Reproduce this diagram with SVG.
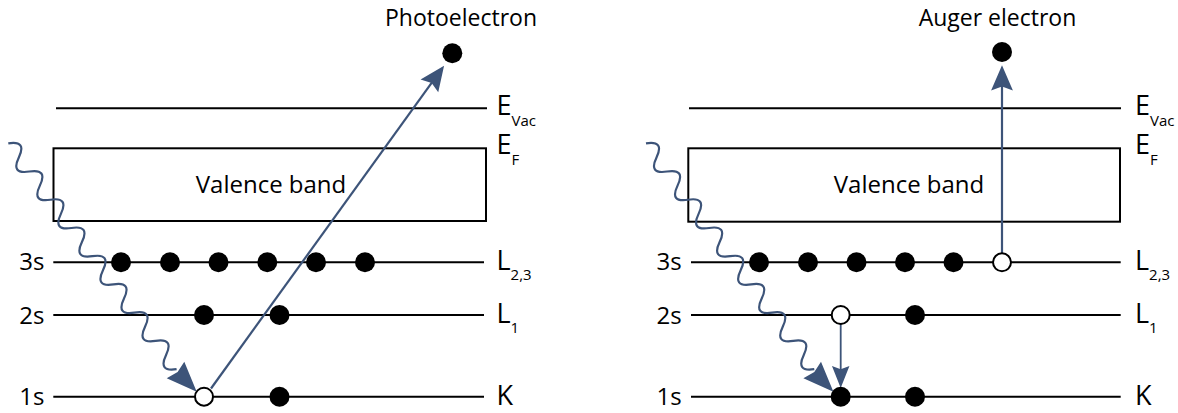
<svg xmlns="http://www.w3.org/2000/svg" width="1178" height="413" viewBox="0 0 1178 413">
<defs>
<style>
text{font-family:"Open Sans","Liberation Sans",sans-serif;fill:#000}
.lvl{stroke:#000;stroke-width:2;fill:none}
.box{stroke:#000;stroke-width:2;fill:#fff}
.dot{fill:#000}
.hole{fill:#fff;stroke:#000;stroke-width:2}
.orb{font-size:24px;text-anchor:end}
.lab{font-size:27px}
.sub{font-size:15px}
.head{font-size:23px;text-anchor:middle}
.vb{font-size:24px;text-anchor:middle}
.wave{fill:none;stroke:#3d5479;stroke-width:2.2}
.arr{stroke:#3d5479;stroke-width:2.2;fill:none}
.ah{fill:#3d5479}
</style>
<marker id="big" markerUnits="userSpaceOnUse" markerWidth="30" markerHeight="24" viewBox="-9 -11 26 22" refX="0" refY="0" orient="auto">
<path d="M15,0 L-8,-10 L-4.5,0 L-8,10 Z" fill="#3d5479"/>
</marker>
<marker id="small" markerUnits="userSpaceOnUse" markerWidth="24" markerHeight="20" viewBox="-8 -9 22 18" refX="0" refY="0" orient="auto">
<path d="M13,0 L-7,-8 L-4,0 L-7,8 Z" fill="#3d5479"/>
</marker>
<path id="wv" d="M0,0 c5.87,-11.3 11.73,-11.3 17.6,0 s11.73,11.3 17.6,0 s11.73,-11.3 17.6,0 s11.73,11.3 17.6,0 s11.73,-11.3 17.6,0 s11.73,11.3 17.6,0 s11.73,-11.3 17.6,0 s11.73,11.3 17.6,0 s11.73,-11.3 17.6,0 s11.73,11.3 17.6,0 s11.73,-11.3 17.6,0 s11.73,11.3 17.6,0 s11.73,-11.3 17.6,0 s11.73,11.3 17.6,0 s11.73,-11.3 17.6,0 s11.73,11.3 17.6,0"/>
</defs>
<rect width="1178" height="413" fill="#fff"/>

<!-- LEFT: photoemission -->
<g id="left-evac"><line class="lvl" x1="56" y1="108.3" x2="487" y2="108.3"/><text class="lab" x="496.5" y="115">E<tspan class="sub" dy="11">Vac</tspan></text></g>
<g id="left-valence"><rect class="box" x="53.5" y="148.3" width="432.5" height="72.7"/><text class="vb" x="271" y="193">Valence band</text><text class="lab" x="496.5" y="154">E<tspan class="sub" dy="11">F</tspan></text></g>
<g id="left-3s"><line class="lvl" x1="53.3" y1="262.3" x2="484" y2="262.3"/><text class="orb" x="44.5" y="270">3s</text><text class="lab" x="496.5" y="269.5">L<tspan class="sub" dy="10">2,3</tspan></text>
<circle class="dot" cx="121" cy="262.3" r="10"/><circle class="dot" cx="170" cy="262.3" r="10"/><circle class="dot" cx="218.5" cy="262.3" r="10"/><circle class="dot" cx="267.3" cy="262.3" r="10"/><circle class="dot" cx="316" cy="262.3" r="10"/><circle class="dot" cx="365" cy="262.3" r="10"/></g>
<g id="left-2s"><line class="lvl" x1="53.3" y1="315" x2="484" y2="315"/><text class="orb" x="44.5" y="324">2s</text><text class="lab" x="496.5" y="322.7">L<tspan class="sub" dy="10">1</tspan></text>
<circle class="dot" cx="204" cy="315" r="10"/><circle class="dot" cx="279.5" cy="315" r="10"/></g>
<g id="left-1s"><line class="lvl" x1="53.3" y1="396.7" x2="484" y2="396.7"/><text class="orb" x="44.5" y="405">1s</text><text class="lab" x="496.5" y="405">K</text>
<circle class="dot" cx="279.5" cy="396.7" r="10"/></g>
<g id="photoelectron"><circle class="dot" cx="452.3" cy="53.3" r="10"/><text class="head" x="461" y="26">Photoelectron</text></g>

<!-- RIGHT: Auger -->
<g id="right-evac"><line class="lvl" x1="689" y1="108.3" x2="1121" y2="108.3"/><text class="lab" x="1135" y="115">E<tspan class="sub" dy="11">Vac</tspan></text></g>
<g id="right-valence"><rect class="box" x="688.3" y="148.3" width="431.7" height="73.4"/><text class="vb" x="909" y="193">Valence band</text><text class="lab" x="1135" y="154">E<tspan class="sub" dy="11">F</tspan></text></g>
<g id="right-3s"><line class="lvl" x1="691" y1="262.3" x2="1120.7" y2="262.3"/><text class="orb" x="681.7" y="270">3s</text><text class="lab" x="1135" y="269.5">L<tspan class="sub" dy="10">2,3</tspan></text>
<circle class="dot" cx="759" cy="262.3" r="10"/><circle class="dot" cx="808" cy="262.3" r="10"/><circle class="dot" cx="856.5" cy="262.3" r="10"/><circle class="dot" cx="905" cy="262.3" r="10"/><circle class="dot" cx="953.5" cy="262.3" r="10"/></g>
<g id="right-2s"><line class="lvl" x1="691" y1="315" x2="1120.7" y2="315"/><text class="orb" x="681.7" y="324">2s</text><text class="lab" x="1135" y="322.7">L<tspan class="sub" dy="10">1</tspan></text>
<circle class="dot" cx="915" cy="315" r="10"/></g>
<g id="right-1s"><line class="lvl" x1="691" y1="396.7" x2="1120.7" y2="396.7"/><text class="orb" x="681.7" y="405">1s</text><text class="lab" x="1135" y="405">K</text>
<circle class="dot" cx="915" cy="396.7" r="10"/></g>
<g id="auger-electron"><circle class="dot" cx="1002" cy="52" r="10"/><text class="head" x="997.5" y="26">Auger electron</text></g>

<!-- connectors -->
<g id="connectors">
<use href="#wv" class="wave" transform="translate(8.3,143.3) rotate(53.3)"/>
<path class="ah" d="M196.7,391.7 L166.7,378.3 L177.6,372.1 L184.3,361.7 Z"/>
<line class="arr" x1="211" y1="388.5" x2="434.5" y2="78.9" marker-end="url(#big)"/>
<use href="#wv" class="wave" transform="translate(646,143.3) rotate(53.3)"/>
<path class="ah" d="M833.4,391.7 L803.4,378.3 L814.3,372.1 L821,361.7 Z"/>
<line class="arr" x1="1002" y1="253.3" x2="1002" y2="81.7" marker-end="url(#big)"/>
<line class="arr" style="stroke-width:1.8" x1="840.7" y1="324" x2="840.7" y2="373.7" marker-end="url(#small)"/>
</g>

<!-- holes drawn on top -->
<g id="left-1s-hole"><circle class="hole" cx="204" cy="396.7" r="9"/></g>
<g id="right-3s-hole"><circle class="hole" cx="1002" cy="262.3" r="9"/></g>
<g id="right-2s-hole"><circle class="hole" cx="840.7" cy="315" r="9"/></g>
<g id="right-1s-dot"><circle class="dot" cx="840.7" cy="396.7" r="10"/></g>
</svg>
